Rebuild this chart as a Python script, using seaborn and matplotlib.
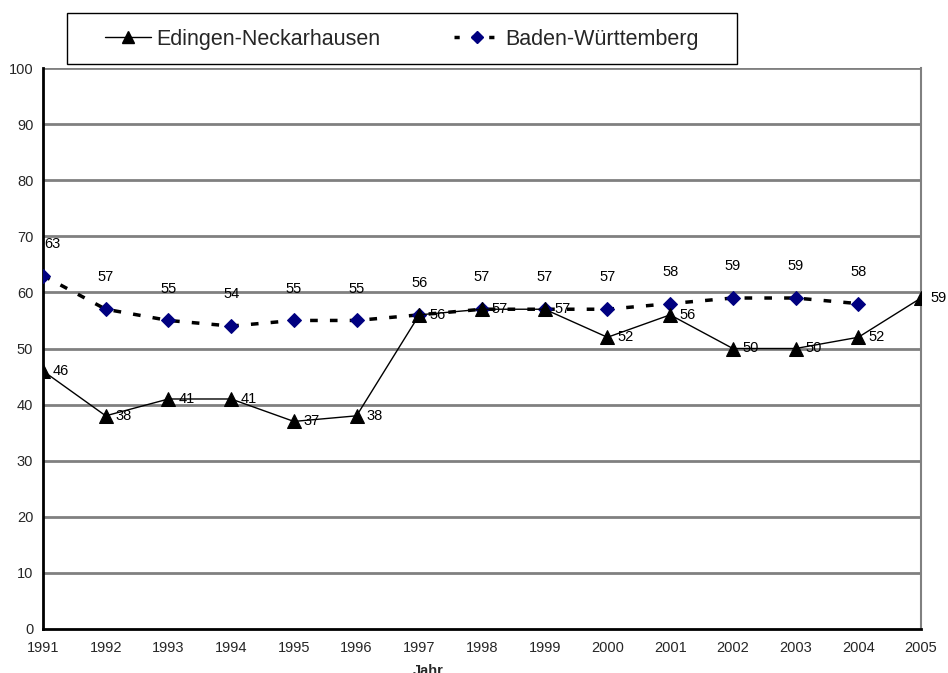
import matplotlib
matplotlib.use("Agg")
import matplotlib.pyplot as plt
import seaborn as sns
import pandas as pd
from matplotlib.lines import Line2D
from matplotlib.patches import Rectangle

years = [1991, 1992, 1993, 1994, 1995, 1996, 1997, 1998, 1999, 2000, 2001, 2002, 2003, 2004, 2005]
edingen = [46, 38, 41, 41, 37, 38, 56, 57, 57, 52, 56, 50, 50, 52, 59]
bw_years = [1991, 1992, 1993, 1994, 1995, 1996, 1997, 1998, 1999, 2000, 2001, 2002, 2003, 2004]
baden_wuerttemberg = [63, 57, 55, 54, 55, 55, 56, 57, 57, 57, 58, 59, 59, 58]
y_ticks = [0, 10, 20, 30, 40, 50, 60, 70, 80, 90, 100]

sns.set_style("white")
plt.rcParams["font.family"] = ["Liberation Sans", "DejaVu Sans"]

df_en = pd.DataFrame({"Jahr": years, "Wert": edingen})
df_bw = pd.DataFrame({"Jahr": bw_years, "Wert": baden_wuerttemberg})

W, H = 948, 673
fig = plt.figure(figsize=(W / 100, H / 100), dpi=100)
ax = fig.add_axes([43 / W, 1 - 629 / H, 878 / W, 561 / H])

for y in y_ticks[1:]:
    ax.axhline(y, color="#808080", lw=2, zorder=0)

sns.lineplot(data=df_bw, x="Jahr", y="Wert", ax=ax, color="black", lw=2.5,
             linestyle=(0, (2.2, 3.5)), marker="D", markersize=7,
             markerfacecolor="#000080", markeredgecolor="#000080", zorder=3)
sns.lineplot(data=df_en, x="Jahr", y="Wert", ax=ax, color="black", lw=1,
             marker="^", markersize=10, markerfacecolor="black",
             markeredgecolor="black", zorder=4)

for i, (x, v) in enumerate(zip(bw_years, baden_wuerttemberg)):
    dx = 7 if i == 0 else 0
    ax.annotate(str(v), (x, v), xytext=(dx, 23), textcoords="offset points",
                ha="center", va="center", fontsize=10.5, color="black")
for x, v in zip(years, edingen):
    ax.annotate(str(v), (x, v), xytext=(7, 0), textcoords="offset points",
                ha="left", va="center", fontsize=10.5, color="black")

ax.set_xlim(1991, 2005)
ax.set_ylim(0, 100)
ax.set_xticks(years)
ax.set_xticklabels([str(y) for y in years], fontsize=10.5)
ax.set_yticks(y_ticks)
ax.set_yticklabels([str(t) for t in y_ticks], fontsize=10.5)
ax.tick_params(axis="both", direction="inout", length=8, width=1.5, color="black")
ax.tick_params(axis="x", pad=5)
ax.tick_params(axis="y", pad=3)

for side in ["left", "bottom"]:
    ax.spines[side].set_color("black")
    ax.spines[side].set_linewidth(2)
ax.spines["right"].set_color("#808080")
ax.spines["right"].set_linewidth(1.5)
ax.spines["top"].set_visible(False)

ax.set_ylabel("")
ax.set_xlabel("Jahr", fontsize=10.5, fontweight="bold")
ax.xaxis.set_label_coords((428 - 43) / 878, -0.062)
ax.xaxis.label.set_va("top")

# legend box drawn as a separate frame
fig.patches.append(Rectangle((67 / W, 1 - 64 / H), 670 / W, 51 / H,
                             transform=fig.transFigure, fill=False,
                             edgecolor="black", lw=1))
handles = [
    Line2D([], [], color="black", lw=1, marker="^", markersize=9,
           markerfacecolor="black"),
    Line2D([], [], color="black", lw=2.5, linestyle=(0, (1.5, 3.5)), marker="D",
           markersize=6.5, markerfacecolor="#000080", markeredgecolor="#000080"),
]
leg = fig.legend(handles, ["Edingen-Neckarhausen", "Baden-Württemberg"],
                 loc="center", bbox_to_anchor=(402 / W, 1 - 39 / H),
                 ncol=2, fontsize=15.5, frameon=False,
                 handlelength=2.1, handletextpad=0.28,
                 columnspacing=3.4, borderpad=0)

fig.savefig("out.png", dpi=100)
